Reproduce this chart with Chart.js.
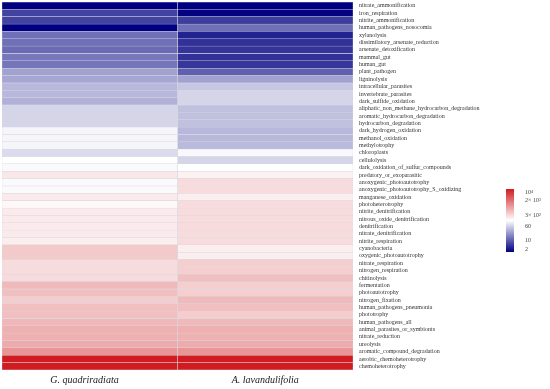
<!DOCTYPE html>
<html>
<head>
<meta charset="utf-8">
<script src="https://cdn.jsdelivr.net/npm/chart.js@4.4.1/dist/chart.umd.min.js"></script>
<style>
  html, body { margin: 0; padding: 0; background: #fff; }
  #wrap { width: 550px; height: 389px; }
</style>
</head>
<body>
<div id="wrap"><canvas id="heat"></canvas></div>
<script>
const functions = [
  "nitrate_ammonification", "iron_respiration", "nitrite_ammonification", "human_pathogens_nosocomia",
  "xylanolysis", "dissimilatory_arsenate_reduction", "arsenate_detoxification", "mammal_gut",
  "human_gut", "plant_pathogen", "ligninolysis", "intracellular_parasites", "invertebrate_parasites",
  "dark_sulfide_oxidation", "aliphatic_non_methane_hydrocarbon_degradation", "aromatic_hydrocarbon_degradation",
  "hydrocarbon_degradation", "dark_hydrogen_oxidation", "methanol_oxidation", "methylotrophy",
  "chloroplasts", "cellulolysis", "dark_oxidation_of_sulfur_compounds", "predatory_or_exoparasitic",
  "anoxygenic_photoautotrophy", "anoxygenic_photoautotrophy_S_oxidizing", "manganese_oxidation",
  "photoheterotrophy", "nitrite_denitrification", "nitrous_oxide_denitrification", "denitrification",
  "nitrate_denitrification", "nitrite_respiration", "cyanobacteria", "oxygenic_photoautotrophy",
  "nitrate_respiration", "nitrogen_respiration", "chitinolysis", "fermentation", "photoautotrophy",
  "nitrogen_fixation", "human_pathogens_pneumonia", "phototrophy", "human_pathogens_all",
  "animal_parasites_or_symbionts", "nitrate_reduction", "ureolysis", "aromatic_compound_degradation",
  "aerobic_chemoheterotrophy", "chemoheterotrophy"
];

const species = ["G. quadriradiata", "A. lavandulifolia"];

// abundance per function
const gQuadriradiata = [
  2, 6, 6, 2, 13, 13, 12, 14.5, 14, 30, 32, 43, 43, 38, 70, 70, 70, 120, 120, 120,
  77, 141, 130, 216, 130, 130, 208, 160, 208, 208, 208, 208, 194, 392, 392, 272, 272, 272, 530, 466,
  360, 466, 466, 550, 626, 626, 682, 1040, 10000, 10000
];
const aLavandulifolia = [
  2, 2.1, 5.5, 13, 3.5, 4.5, 4.8, 4.5, 5, 10, 30, 55, 70, 70, 49, 49, 49, 43, 43, 45,
  128, 70, 145, 180, 272, 272, 194, 272, 272, 272, 272, 272, 272, 194, 194, 346, 346, 466, 346, 346,
  530, 466, 360, 530, 626, 600, 682, 1040, 10000, 10000
];

const legendTicks = [10000, 2000, 300, 60, 10, 2];
const legendLabels = ["10\u2074", "2\u00d7 10\u00b3", "3\u00d7 10\u00b2", "60", "10", "2"];

// log colour scale: navy (low) - white (mid) - red (high)
const LOG_MIN = Math.log10(2), LOG_MAX = 4, LOG_MID = 2.15;

function colorFor(v) {
  const lv = Math.log10(v);
  let t;
  if (lv < LOG_MID) t = -Math.min(1, (LOG_MID - lv) / (LOG_MID - LOG_MIN));
  else t = Math.min(1, (lv - LOG_MID) / (LOG_MAX - LOG_MID));
  let r, g, b;
  if (t < 0) {
    const f = -t;
    r = 255 * (1 - f); g = 255 * (1 - f); b = 255 - 127 * f;
  } else {
    r = 255 - 47 * t; g = 255 - 227 * t; b = 255 - 223 * t;
  }
  return `rgb(${Math.round(r)},${Math.round(g)},${Math.round(b)})`;
}

const colorBar = {
  id: "colorBar",
  afterDraw(chart) {
    const ctx = chart.ctx;
    const x = 506, w = 8, top = 189, bottom = 252;
    const grad = ctx.createLinearGradient(0, top, 0, bottom);
    for (let i = 0; i <= 40; i++) {
      const lv = LOG_MAX - (LOG_MAX - LOG_MIN) * i / 40;
      grad.addColorStop(i / 40, colorFor(Math.pow(10, lv)));
    }
    ctx.save();
    ctx.fillStyle = grad;
    ctx.fillRect(x, top, w, bottom - top);
    ctx.font = "6px 'Liberation Serif'";
    ctx.fillStyle = "#444";
    ctx.textBaseline = "middle";
    legendTicks.forEach((v, i) => {
      const y = top + (LOG_MAX - Math.log10(v)) / (LOG_MAX - LOG_MIN) * (bottom - top);
      ctx.fillText(legendLabels[i], 525, Math.min(Math.max(y, top + 3), bottom - 3));
    });
    ctx.restore();
  }
};

const datasets = [gQuadriradiata, aLavandulifolia].map((vals, ci) => ({
  label: species[ci],
  data: functions.map(() => [ci, ci + 1]),
  backgroundColor: vals.map(colorFor),
  borderColor: "#d6d6de",
  borderWidth: 0.5,
  borderSkipped: false,
  barPercentage: 1,
  categoryPercentage: 1,
  grouped: false
}));

new Chart(document.getElementById("heat"), {
  type: "bar",
  data: { labels: functions, datasets: datasets },
  options: {
    indexAxis: "y",
    responsive: true,
    maintainAspectRatio: false,
    animation: false,
    events: [],
    layout: { padding: { left: 2, top: 2, right: 0, bottom: 0 } },
    plugins: { legend: { display: false }, tooltip: { enabled: false } },
    scales: {
      x: {
        type: "linear",
        min: 0,
        max: 2,
        grid: { display: false, drawTicks: false },
        border: { display: false },
        afterBuildTicks: axis => { axis.ticks = [{ value: 0.47 }, { value: 1.5 }]; },
        afterFit: axis => { axis.height = 19; axis.paddingLeft = 0; axis.paddingRight = 0; },
        ticks: {
          autoSkip: false,
          maxRotation: 0,
          padding: 4,
          color: "#222",
          font: { family: "'Liberation Serif'", size: 10, style: "italic" },
          callback: v => species[Math.round(v - 0.5)]
        }
      },
      y: {
        position: "right",
        grid: { display: false, drawTicks: false },
        border: { display: false },
        afterFit: axis => { axis.width = 197; axis.paddingTop = 0; axis.paddingBottom = 0; },
        ticks: {
          autoSkip: false,
          padding: 6,
          color: "#333",
          font: { family: "'Liberation Serif'", size: 6 }
        }
      }
    }
  },
  plugins: [colorBar]
});
</script>
</body>
</html>
